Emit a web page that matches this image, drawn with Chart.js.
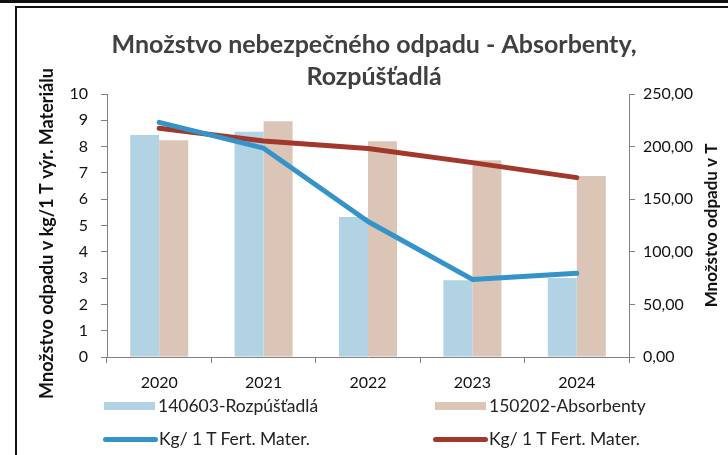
<!DOCTYPE html>
<html>
<head>
<meta charset="utf-8">
<script src="https://cdn.jsdelivr.net/npm/chart.js@4"></script>
<style>
  html, body { margin: 0; padding: 0; background: #fff; }
  #wrap { position: relative; width: 728px; height: 455px; overflow: hidden; }
  #topband { position: absolute; left: 0; top: 0; width: 728px; height: 3px; background: #111; }
  #frame { position: absolute; left: 15px; top: 6px; width: 800px; height: 500px;
           border-left: 2px solid #111; border-top: 2px solid #111; }
  canvas { position: absolute; left: 0; top: 0; }
  .lg { position: absolute; font: 17.5px Lato, sans-serif; color: #222; white-space: nowrap; }
  .lg .sw { position: absolute; left: 0; }
  .lg span.t { position: absolute; top: -11px; }
</style>
</head>
<body>
<div id="wrap">
  <div id="topband"></div>
  <div id="frame"></div>
  <canvas id="wasteChart" width="728" height="455"></canvas>
  <div id="legend"></div>
</div>
<script>
const years = ['2020', '2021', '2022', '2023', '2024'];
// tonnes (right axis)
const rozpustadlaT = [211, 214, 133, 73, 75];
const absorbentyT = [206, 224, 205, 187, 172];
// kg per 1 T of material (left axis)
const rozpustadlaKg = [8.92, 7.94, 5.15, 2.95, 3.18];
const absorbentyKg = [8.70, 8.21, 7.93, 7.39, 6.82];

const blueBar = 'rgb(178, 211, 228)';
const beigeBar = 'rgb(219, 197, 183)';
const blueLine = 'rgb(52, 148, 202)';
const redLine = 'rgb(162, 56, 44)';
const axisGray = '#808080';

const tickFont = { family: 'Lato, sans-serif', size: 16 };

// both axis titles read bottom-to-top, placed by hand
const axisTitles = {
    id: 'axisTitles',
    afterDraw(chart) {
        const { ctx, chartArea } = chart;
        const drawRotated = (text, x, y, size) => {
            ctx.save();
            ctx.translate(x, y);
            ctx.rotate(-Math.PI / 2);
            ctx.font = 'bold ' + size + 'px Lato, sans-serif';
            ctx.fillStyle = '#111';
            ctx.textAlign = 'center';
            ctx.textBaseline = 'middle';
            ctx.fillText(text, 0, 0);
            ctx.restore();
        };
        const midY = (chartArea.top + chartArea.bottom) / 2;
        drawRotated('Množstvo odpadu v kg/1 T výr. Materiálu', chartArea.left - 60, midY + 8, 18);
        drawRotated('Množstvo odpadu v T', chartArea.right + 83, midY, 17);
    }
};

const ctx = document.getElementById('wasteChart').getContext('2d');
const chart = new Chart(ctx, {
    type: 'bar',
    data: {
        labels: years,
        datasets: [{
            type: 'line',
            label: 'Kg/ 1 T Fert. Mater.',
            data: rozpustadlaKg,
            yAxisID: 'y',
            borderColor: blueLine,
            backgroundColor: blueLine,
            borderWidth: 5,
            pointRadius: 0,
            tension: 0,
            borderJoinStyle: 'round',
            borderCapStyle: 'round',
            order: 1
        }, {
            type: 'line',
            label: 'Kg/ 1 T Fert. Mater.',
            data: absorbentyKg,
            yAxisID: 'y',
            borderColor: redLine,
            backgroundColor: redLine,
            borderWidth: 5,
            pointRadius: 0,
            tension: 0,
            borderJoinStyle: 'round',
            borderCapStyle: 'round',
            order: 2
        }, {
            label: '140603-Rozpúšťadlá',
            data: rozpustadlaT,
            yAxisID: 'y1',
            backgroundColor: blueBar,
            categoryPercentage: 0.556,
            barPercentage: 1,
            order: 3
        }, {
            label: '150202-Absorbenty',
            data: absorbentyT,
            yAxisID: 'y1',
            backgroundColor: beigeBar,
            categoryPercentage: 0.556,
            barPercentage: 1,
            order: 4
        }]
    },
    options: {
        responsive: false,
        animation: false,
        layout: { padding: { left: 20, right: 0, top: 0, bottom: 58 } },
        plugins: {
            legend: { display: false },
            tooltip: { enabled: false },
            title: {
                display: true,
                text: ['Množstvo nebezpečného odpadu - Absorbenty,', 'Rozpúšťadlá'],
                color: '#404040',
                font: { family: 'Lato, sans-serif', size: 25, weight: 'bold', lineHeight: 32 / 25 },
                padding: { top: 29, bottom: 1 }
            }
        },
        scales: {
            x: {
                offset: true,
                grid: { offset: true, drawOnChartArea: false, drawTicks: true, tickLength: 6, color: axisGray },
                border: { color: axisGray },
                ticks: { color: '#111', font: tickFont, padding: 10 },
                afterFit: s => { s.height = 40; }
            },
            y: {
                position: 'left',
                min: 0,
                max: 10,
                ticks: { stepSize: 1, color: '#111', font: tickFont, padding: 13 },
                grid: { drawOnChartArea: false, drawTicks: true, tickLength: 6, color: axisGray },
                border: { color: axisGray },
                afterFit: s => { s.width = 87; }
            },
            y1: {
                position: 'right',
                min: 0,
                max: 250,
                ticks: {
                    stepSize: 50,
                    color: '#111',
                    font: tickFont,
                    padding: 8,
                    callback: v => v.toFixed(2).replace('.', ',')
                },
                grid: { drawOnChartArea: false, drawTicks: true, tickLength: 6, color: axisGray },
                border: { color: axisGray },
                afterFit: s => { s.width = 99; }
            }
        }
    },
    plugins: [axisTitles]
});

// legend: two columns, bars on first row, lines on second
const legendSlots = [
    { ds: 2, x: 104, y: 406 },
    { ds: 3, x: 435, y: 406 },
    { ds: 0, x: 103, y: 439 },
    { ds: 1, x: 433, y: 439 }
];
const legendEl = document.getElementById('legend');
legendSlots.forEach(slot => {
    const ds = chart.data.datasets[slot.ds];
    const item = document.createElement('div');
    item.className = 'lg';
    item.style.left = slot.x + 'px';
    item.style.top = slot.y + 'px';
    const sw = document.createElement('div');
    sw.className = 'sw';
    if (ds.type === 'line') {
        sw.style.width = '55px';
        sw.style.height = '5px';
        sw.style.top = '-2.5px';
        sw.style.borderRadius = '3px';
        sw.style.background = ds.borderColor;
    } else {
        sw.style.width = '51px';
        sw.style.height = '8px';
        sw.style.top = '-4px';
        sw.style.background = ds.backgroundColor;
    }
    const t = document.createElement('span');
    t.className = 't';
    t.style.left = (ds.type === 'line' ? 56 : 54) + 'px';
    t.textContent = ds.label;
    item.appendChild(sw);
    item.appendChild(t);
    legendEl.appendChild(item);
});
</script>
</body>
</html>
